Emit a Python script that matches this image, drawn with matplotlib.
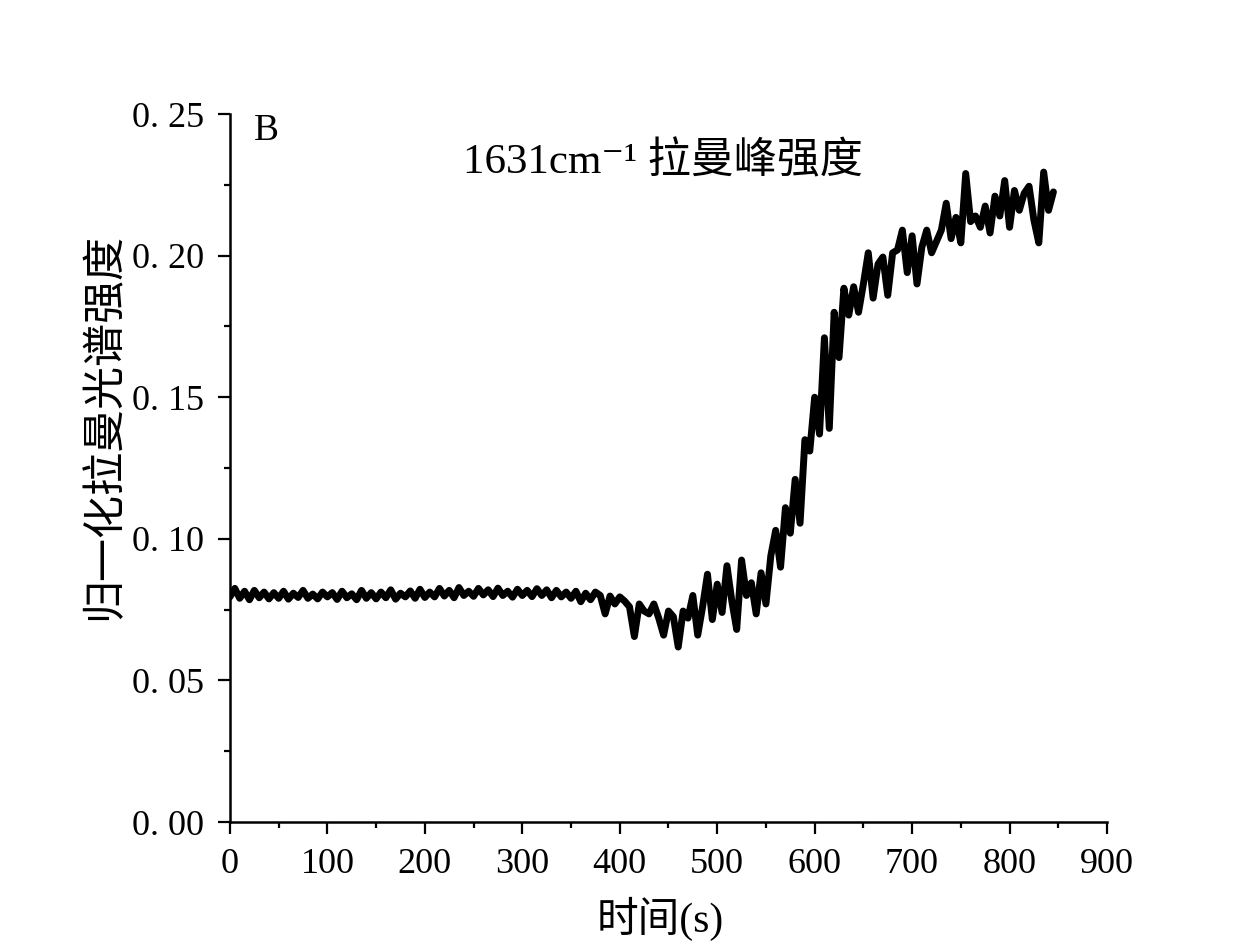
import matplotlib
matplotlib.use('Agg')
import matplotlib.pyplot as plt
import numpy as np
from matplotlib.ticker import MultipleLocator, FuncFormatter

plt.rcParams['font.family'] = ['Liberation Serif', 'DejaVu Serif', 'Noto Sans CJK SC']

# 1631 cm-1 peak, normalised intensity, sampled every 5 s
seg_000_100 = [0.0795, 0.0825, 0.0790, 0.0815, 0.0785, 0.0818, 0.0792, 0.0812, 0.0788, 0.0810, 0.0790,
               0.0815, 0.0787, 0.0808, 0.0793, 0.0818, 0.0790, 0.0805, 0.0788, 0.0812, 0.0795]
seg_105_200 = [0.0810, 0.0786, 0.0815, 0.0792, 0.0806, 0.0785, 0.0818, 0.0790, 0.0810, 0.0788,
               0.0812, 0.0792, 0.0820, 0.0787, 0.0808, 0.0795, 0.0816, 0.0790, 0.0822, 0.0793]
seg_205_300 = [0.0812, 0.0795, 0.0825, 0.0798, 0.0818, 0.0792, 0.0828, 0.0800, 0.0815, 0.0797,
               0.0825, 0.0802, 0.0820, 0.0796, 0.0826, 0.0800, 0.0815, 0.0794, 0.0822, 0.0800]
seg_305_400 = [0.0818, 0.0796, 0.0824, 0.0800, 0.0820, 0.0792, 0.0818, 0.0795, 0.0812, 0.0790,
               0.0815, 0.0778, 0.0808, 0.0785, 0.0812, 0.0800, 0.0735, 0.0798, 0.0770, 0.0795]
seg_405_500 = [0.0780, 0.0760, 0.0655, 0.0770, 0.0745, 0.0735, 0.0770, 0.0720, 0.0660, 0.0745,
               0.0725, 0.0618, 0.0745, 0.0720, 0.0800, 0.0660, 0.0760, 0.0875, 0.0715, 0.0840]
seg_505_600 = [0.0740, 0.0905, 0.0780, 0.0680, 0.0925, 0.0800, 0.0845, 0.0735, 0.0880, 0.0770,
               0.0940, 0.1030, 0.0900, 0.1110, 0.1020, 0.1210, 0.1055, 0.1350, 0.1310, 0.1500]
seg_605_700 = [0.1370, 0.1710, 0.1390, 0.1800, 0.1640, 0.1885, 0.1790, 0.1890, 0.1800, 0.1900,
               0.2010, 0.1850, 0.1970, 0.1995, 0.1860, 0.2010, 0.2020, 0.2090, 0.1940, 0.2070]
seg_705_800 = [0.1900, 0.2030, 0.2090, 0.2010, 0.2050, 0.2090, 0.2185, 0.2060, 0.2135, 0.2045,
               0.2290, 0.2120, 0.2140, 0.2100, 0.2175, 0.2080, 0.2210, 0.2140, 0.2265, 0.2100]
seg_805_845 = [0.2230, 0.2160, 0.2220, 0.2245, 0.2125, 0.2045, 0.2295, 0.2160, 0.2225]

intensity = np.array(seg_000_100 + seg_105_200 + seg_205_300 + seg_305_400 + seg_405_500
                     + seg_505_600 + seg_605_700 + seg_705_800 + seg_805_845)
time_s = np.arange(0, 5 * len(intensity), 5)

fig = plt.figure(figsize=(12.43, 9.51), dpi=100)
ax = fig.add_axes([0.185, 0.1356, 0.7056, 0.7445])

ax.plot(time_s, intensity, color='black', lw=5,
        solid_joinstyle='round', solid_capstyle='round')

ax.set_xlim(0, 900)
ax.set_ylim(0, 0.25)
ax.xaxis.set_major_locator(MultipleLocator(100))
ax.xaxis.set_minor_locator(MultipleLocator(50))
ax.yaxis.set_major_locator(MultipleLocator(0.05))
ax.yaxis.set_minor_locator(MultipleLocator(0.025))
ax.yaxis.set_major_formatter(FuncFormatter(lambda v, p: ('%.2f' % v).replace('.', '. ')))

for s in ['top', 'right']:
    ax.spines[s].set_visible(False)
for s in ['left', 'bottom']:
    ax.spines[s].set_linewidth(1.8)

ax.tick_params(which='major', direction='out', length=8.5, width=1.6, labelsize=26)
ax.tick_params(which='minor', direction='out', length=4.5, width=1.6)
ax.tick_params(axis='x', which='major', pad=10)
ax.tick_params(axis='y', which='major', pad=10)

ax.set_xlabel('时间(s)', fontsize=30)
ax.set_ylabel('归一化拉曼光谱强度', fontsize=31)
ax.xaxis.set_label_coords(0.491, -0.105)
ax.yaxis.set_label_coords(-0.12, 0.558)

ax.text(0.494, 0.932, '1631cm⁻¹ 拉曼峰强度', transform=ax.transAxes,
        ha='center', va='center', fontsize=31)
ax.text(0.027, 0.976, 'B', transform=ax.transAxes, ha='left', va='center', fontsize=27)

fig.savefig('out.png', dpi=100)
